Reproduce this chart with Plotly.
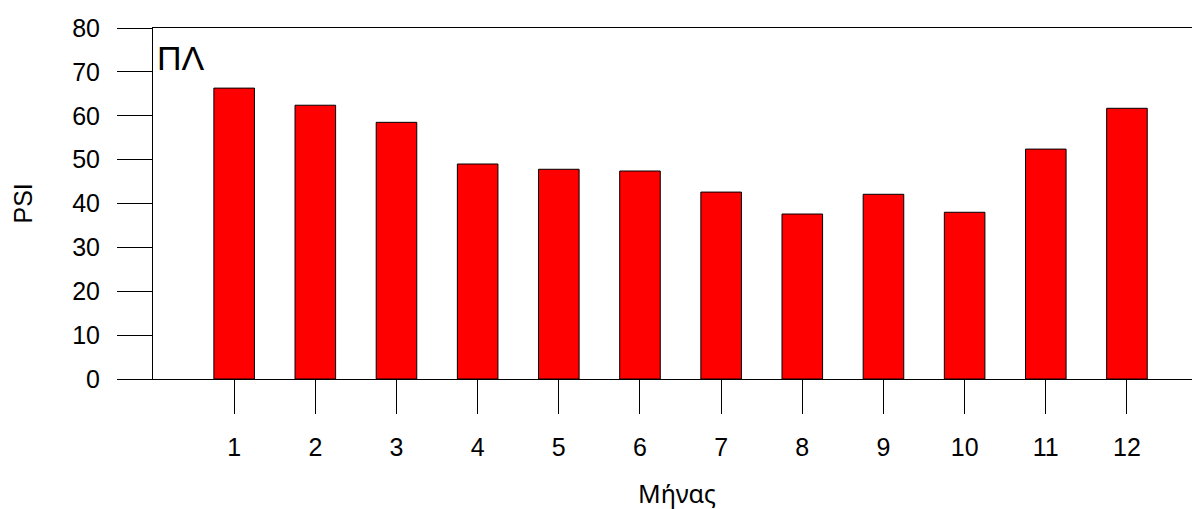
import plotly.graph_objects as go

months = [1, 2, 3, 4, 5, 6, 7, 8, 9, 10, 11, 12]
psi = [66.3, 62.4, 58.5, 49.0, 47.8, 47.4, 42.6, 37.6, 42.1, 38.0, 52.4, 61.7]
y_ticks = [0, 10, 20, 30, 40, 50, 60, 70, 80]

font = "Arial, Liberation Sans, sans-serif"

fig = go.Figure(go.Bar(
    x=months, y=psi, width=0.5,
    marker=dict(color="#FF0000", line=dict(color="black", width=1)),
))

fig.update_layout(
    width=1192, height=501,
    margin=dict(l=145, r=0, t=20, b=130),
    paper_bgcolor="white", plot_bgcolor="white",
    showlegend=False,
    font=dict(family=font, size=25, color="black"),
    xaxis=dict(
        range=[0, 12.9], tickvals=months, ticktext=[str(m) for m in months],
        showgrid=False, zeroline=False, automargin=False,
        showline=True, linecolor="black", linewidth=1, mirror=True,
        ticks="outside", ticklen=34, tickcolor="black", tickwidth=1,
        ticklabelstandoff=12,
    ),
    yaxis=dict(
        range=[0, 80], tickvals=y_ticks,
        showgrid=False, zeroline=False, automargin=False,
        showline=True, linecolor="black", linewidth=1,
        ticks="outside", ticklen=35, tickcolor="black", tickwidth=1,
        ticklabelstandoff=12,
    ),
    annotations=[
        dict(text="ΠΛ", xref="paper", yref="paper", x=0.002, y=0.9145,
             xanchor="left", yanchor="middle", showarrow=False,
             font=dict(size=34, family=font, color="black")),
        dict(text="Μήνας", xref="paper", yref="paper", x=0.5, y=0,
             xanchor="center", yanchor="middle", yshift=-114, showarrow=False,
             font=dict(size=25, family="Noto Sans, Open Sans, sans-serif", color="black")),
        dict(text="PSI", xref="paper", yref="paper", x=0, y=0.5,
             xanchor="center", yanchor="middle", xshift=-131, textangle=-90,
             showarrow=False, font=dict(size=25, family=font, color="black")),
    ],
)

fig.write_html("out.html")
